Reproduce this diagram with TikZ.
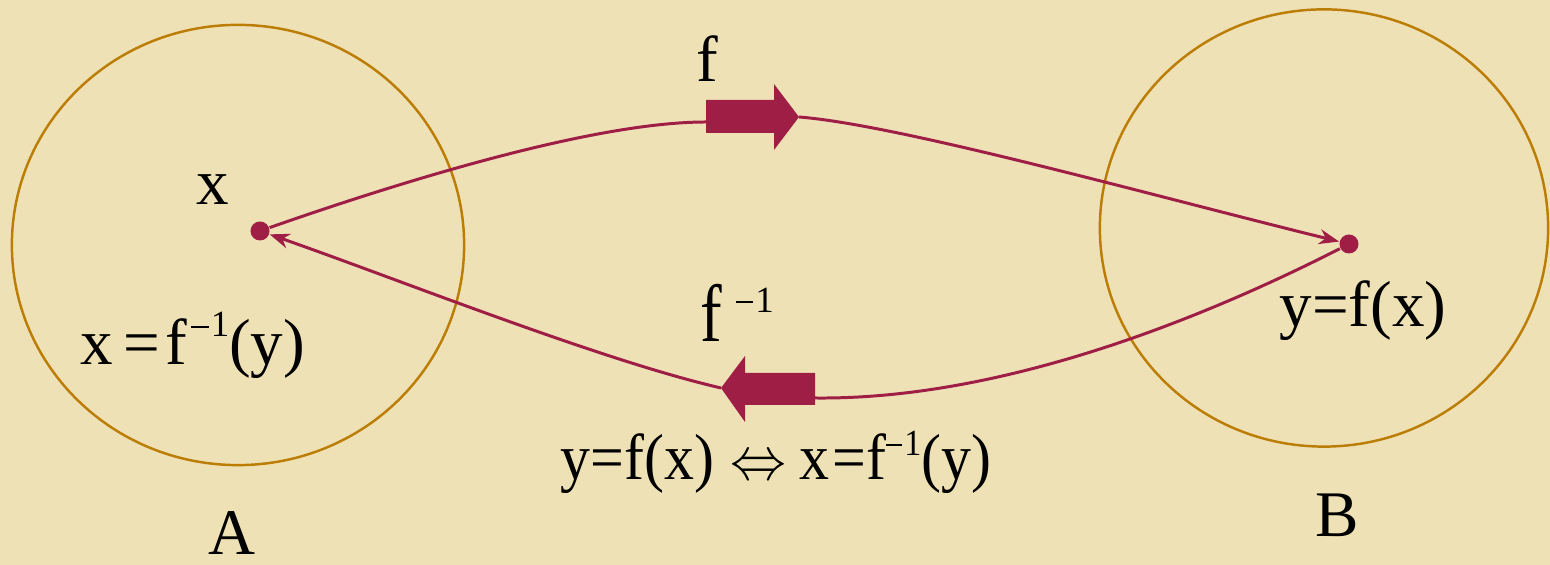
\documentclass[tikz,border=0pt]{standalone}
\usepackage{fontspec}
\setmainfont{Liberation Serif}
\usetikzlibrary{arrows.meta}
\definecolor{parch}{RGB}{239,225,182}
\definecolor{ring}{RGB}{188,125,5}
\definecolor{crim}{RGB}{158,30,70}
\newcommand{\mysup}[2][8pt]{\raisebox{#1}{\fontsize{10.5}{11}\selectfont #2}}
\newcommand{\mminus}{\rule[2.6pt]{5pt}{0.55pt}\hspace{0.6pt}}
\begin{document}
\begin{tikzpicture}[x=0.01cm,y=-0.01cm,
  lbl/.style={font=\fontsize{18.5}{22}\selectfont, inner sep=0pt, anchor=base},
  ringline/.style={draw=ring, line width=0.7pt},
  conn/.style={draw=crim, line width=0.85pt},
  tip/.style={-{Stealth[length=0.2cm,width=0.15cm]}},
  dot/.style={circle, fill=crim, inner sep=0pt, minimum size=0.19cm},
  blockarrow/.style={fill=crim}]
\fill[parch] (0,0) rectangle (1550,565);
\useasboundingbox (0,0) rectangle (1550,565);
% sets A and B
\draw[ringline] (238,245) ellipse [x radius=2.26cm, y radius=2.20cm];
\draw[ringline] (1324,228) ellipse [x radius=2.24cm, y radius=2.185cm];
% points
\node[dot] (X) at (260,231) {};
\node[dot] (Y) at (1349,244) {};
% block arrows
\fill[blockarrow] (706,100) -- (774,100) -- (774,84) -- (799,117) -- (774,150) -- (774,133) -- (706,133) -- cycle;
\coordinate (fT) at (706,122);
\coordinate (fH) at (799,117);
\fill[blockarrow] (815,373) -- (745,373) -- (745,356) -- (721,388) -- (745,422) -- (745,405) -- (815,405) -- cycle;
\coordinate (gT) at (815,398);
\coordinate (gH) at (721,388);
% connectors
\draw[conn] (X) .. controls (420,175) and (600,122) .. (fT);
\draw[conn,tip] (fH) .. controls (900,125) and (1150,195) .. (Y);
\draw[conn] (Y) .. controls (1200,320) and (1000,400) .. (gT);
\draw[conn,tip] (gH) .. controls (600,360) and (400,280) .. (X);
% labels
\node[lbl] (fl) at (707,82) {f};
\node[lbl] (xl) at (213,205) {x};
\node[lbl] (xinv) at (193,365) {x\hspace{3pt}=\hspace{1.5pt}f\hspace{1pt}\mysup{\mminus 1}(y)};
\node[lbl] (finv) at (737,342) {\scalebox{1}[1.25]{f}\hspace{4pt}\mysup[8.5pt]{\mminus 1}};
\node[lbl] (yfx) at (1363,327) {y=f(x)};
\node[lbl] (equiv) at (776,480) {\scalebox{0.92}[1]{y=f(x)\hspace{5pt}$\Leftrightarrow$\hspace{4pt}x\hspace{1pt}=f\mysup[7pt]{\mminus 1}(y)}};
\node[lbl] (A) at (232,555) {A};
\node[lbl] (B) at (1337,537) {B};
\end{tikzpicture}
\end{document}
